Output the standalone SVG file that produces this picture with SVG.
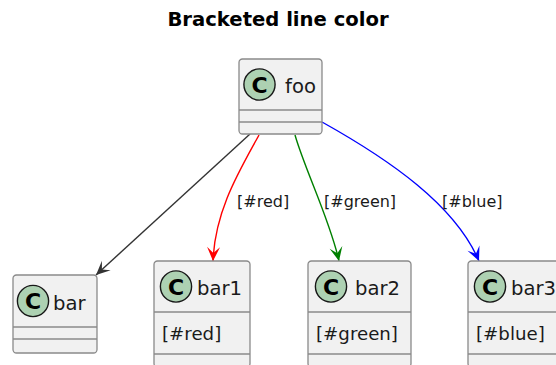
<svg xmlns="http://www.w3.org/2000/svg" width="556" height="365" viewBox="0 0 556 365">
<style>
.box{fill:#F1F1F1;stroke:#8a8a8a;stroke-width:1.3}
.sep{stroke:#8a8a8a;stroke-width:1.3}
.circ{fill:#ADD1B2;stroke:#181818;stroke-width:1.4}
.cl{font-family:"DejaVu Sans",sans-serif;font-weight:bold;font-size:22px;fill:#000;text-anchor:middle}
.name{font-family:"DejaVu Sans",sans-serif;font-size:19.6px;fill:#1a1a1a}
.field{font-family:"DejaVu Sans",sans-serif;font-size:18.2px;fill:#1a1a1a}
.elab{font-family:"DejaVu Sans",sans-serif;font-size:16px;fill:#1a1a1a}
.title{font-family:"DejaVu Sans",sans-serif;font-weight:bold;font-size:19.6px;fill:#000;text-anchor:middle}
.edge{fill:none;stroke-width:1.4}
</style>
<defs>
<marker id="mk" viewBox="-16 -8 18 16" refX="0" refY="0" markerWidth="18" markerHeight="16" markerUnits="userSpaceOnUse" orient="auto"><path d="M0,0 L-14,-6.5 L-8,0 L-14,6.5 Z" fill="#333333"/></marker>
<marker id="mr" viewBox="-16 -8 18 16" refX="0" refY="0" markerWidth="18" markerHeight="16" markerUnits="userSpaceOnUse" orient="auto"><path d="M0,0 L-14,-6.5 L-8,0 L-14,6.5 Z" fill="#FF0000"/></marker>
<marker id="mg" viewBox="-16 -8 18 16" refX="0" refY="0" markerWidth="18" markerHeight="16" markerUnits="userSpaceOnUse" orient="auto"><path d="M0,0 L-14,-6.5 L-8,0 L-14,6.5 Z" fill="#008000"/></marker>
<marker id="mb" viewBox="-16 -8 18 16" refX="0" refY="0" markerWidth="18" markerHeight="16" markerUnits="userSpaceOnUse" orient="auto"><path d="M0,0 L-14,-6.5 L-8,0 L-14,6.5 Z" fill="#0000FF"/></marker>
</defs>
<text class="title" x="278" y="26">Bracketed line color</text>
<g id="connectors">
<path class="edge" stroke="#333333" d="M250,134 L96,275" marker-end="url(#mk)"/>
<path class="edge" stroke="#FF0000" d="M259,135 C240,170 215,210 213,261" marker-end="url(#mr)"/>
<path class="edge" stroke="#008000" d="M295,135 C305,170 330,220 339,261" marker-end="url(#mg)"/>
<path class="edge" stroke="#0000FF" d="M322,122 C390,160 455,205 479,261" marker-end="url(#mb)"/>
<text class="elab" x="237" y="207">[#red]</text>
<text class="elab" x="324" y="207">[#green]</text>
<text class="elab" x="442" y="207">[#blue]</text>
</g>
<g id="foo">
<rect class="box" x="239" y="59" width="83" height="75" rx="3.5"/>
<line class="sep" x1="239" y1="110" x2="322" y2="110"/>
<line class="sep" x1="239" y1="122" x2="322" y2="122"/>
<circle class="circ" cx="259.5" cy="84.5" r="15.6"/>
<text class="cl" x="259.5" y="92.5">C</text>
<text class="name" x="285" y="93">foo</text>
</g>
<g id="bar">
<rect class="box" x="13" y="275" width="84" height="78" rx="3.5"/>
<line class="sep" x1="13" y1="327" x2="97" y2="327"/>
<line class="sep" x1="13" y1="339" x2="97" y2="339"/>
<circle class="circ" cx="33" cy="301" r="15.6"/>
<text class="cl" x="33" y="309">C</text>
<text class="name" x="53" y="309.5">bar</text>
</g>
<g id="bar1">
<rect class="box" x="154" y="261" width="96" height="106" rx="3.5"/>
<line class="sep" x1="154" y1="312" x2="250" y2="312"/>
<line class="sep" x1="154" y1="354" x2="250" y2="354"/>
<circle class="circ" cx="176" cy="286.5" r="15.6"/>
<text class="cl" x="176" y="294.5">C</text>
<text class="name" x="197" y="295">bar1</text>
<text class="field" x="162" y="339.5">[#red]</text>
</g>
<g id="bar2">
<rect class="box" x="308" y="261" width="103" height="106" rx="3.5"/>
<line class="sep" x1="308" y1="312" x2="411" y2="312"/>
<line class="sep" x1="308" y1="354" x2="411" y2="354"/>
<circle class="circ" cx="331" cy="286.5" r="15.6"/>
<text class="cl" x="331" y="294.5">C</text>
<text class="name" x="355" y="295">bar2</text>
<text class="field" x="316" y="339.5">[#green]</text>
</g>
<g id="bar3">
<rect class="box" x="468" y="261" width="96" height="106" rx="3.5"/>
<line class="sep" x1="468" y1="312" x2="564" y2="312"/>
<line class="sep" x1="468" y1="354" x2="564" y2="354"/>
<circle class="circ" cx="490" cy="286.5" r="15.6"/>
<text class="cl" x="490" y="294.5">C</text>
<text class="name" x="511" y="295">bar3</text>
<text class="field" x="476" y="339.5">[#blue]</text>
</g>
</svg>
